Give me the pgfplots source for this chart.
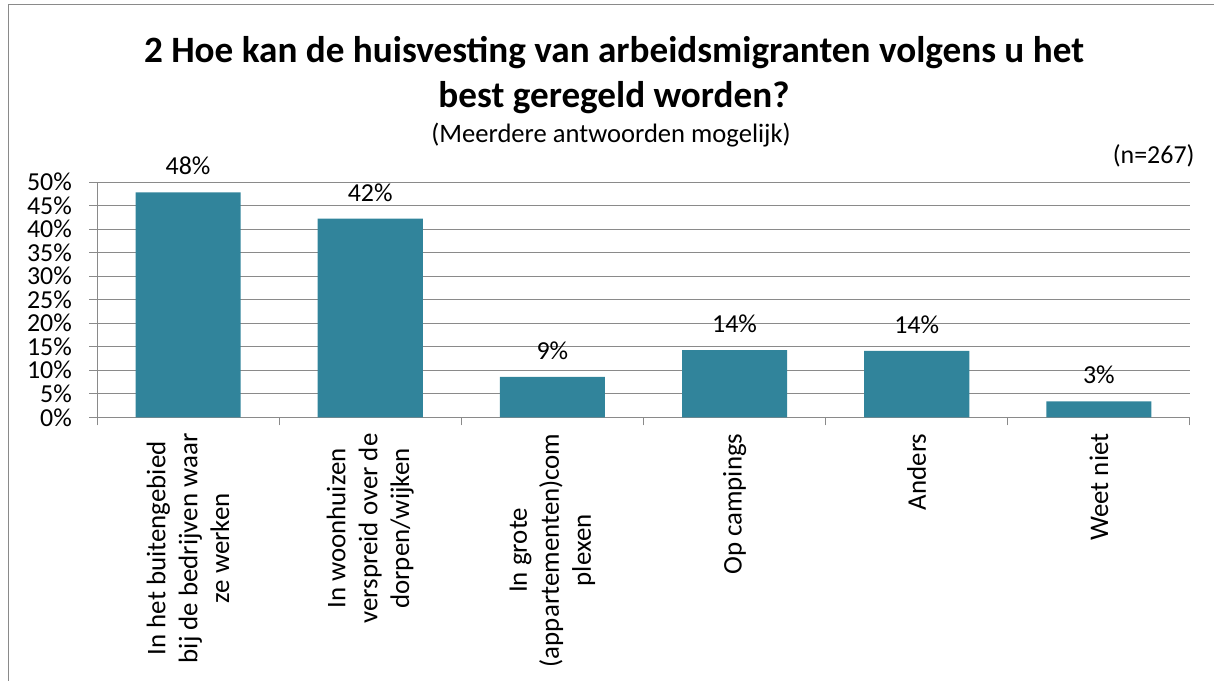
\documentclass[border=0pt]{standalone}
\usepackage{fontspec}
\setmainfont{Carlito}
\usepackage{pgfplots}
\pgfplotsset{compat=1.18}
\definecolor{barteal}{HTML}{31849B}
\definecolor{gridgray}{HTML}{8A8A8A}
\begin{document}
\begin{tikzpicture}
\useasboundingbox (0bp,0bp) rectangle (1214bp,-681bp);
\draw[gridgray, line width=1.3bp] (8.5bp,-681bp) -- (8.5bp,-4.5bp) -- (1214bp,-4.5bp);
\node[anchor=base, font=\fontsize{37.3}{45}\selectfont\bfseries] at (614bp,-62bp) {2 Hoe kan de huisvesting van arbeidsmigranten volgens u het};
\node[anchor=base, font=\fontsize{37.3}{45}\selectfont\bfseries] at (614bp,-107bp) {best geregeld worden?};
\node[anchor=base, font=\fontsize{26.7}{32}\selectfont] at (611bp,-142bp) {(Meerdere antwoorden mogelijk)};
\node[anchor=base east, font=\fontsize{26}{30}\selectfont] at (1198bp,-163bp) {(n=267)};
\begin{axis}[
  scale only axis,
  width=1093bp, height=235.3bp,
  at={(97bp,-417.3bp)}, anchor=south west,
  xmin=-0.5, xmax=5.5, ymin=0, ymax=50,
  axis lines=left,
  axis line style={-, gridgray, line width=1bp},
  tick align=outside,
  major tick length=8bp,
  tick style={gridgray, line width=1bp},
  ytick={0,5,...,50},
  yticklabel={\pgfmathprintnumber{\tick}\%},
  /pgf/number format/assume math mode=true,
  yticklabel style={font=\fontsize{26}{30}\selectfont, anchor=east, inner sep=0pt},
  ymajorgrids,
  grid style={gridgray, line width=0.9bp},
  xtick={-0.5,0.5,...,5.5},
  xticklabels={},
  extra x ticks={0,1,2,3,4,5},
  extra x tick labels={{In het buitengebied\\bij de bedrijven waar\\ze werken},{In woonhuizen\\verspreid over de\\dorpen/wijken},{In grote\\(appartementen)com\\plexen},{Op campings},{Anders},{Weet niet}},
  extra x tick style={major tick length=0pt, grid=none,
    xticklabel style={rotate=90, anchor=east, align=center, inner sep=0pt,
      font=\fontsize{27}{32}\selectfont}},
  xticklabel shift=16bp,
  yticklabel shift=17bp,
  ybar,
  bar width=0.577,
  bar shift=0pt,
  nodes near coords={\pgfmathprintnumber[fixed,precision=0]{\pgfplotspointmeta}\%},
  nodes near coords style={font=\fontsize{26}{30}\selectfont, anchor=south, inner sep=0pt, yshift=17bp, black},
  clip=false,
]
\addplot[fill=barteal, draw=none] coordinates {
  (0,47.8) (1,42.2) (2,8.6) (3,14.3) (4,14.1) (5,3.4)
};
\end{axis}
\end{tikzpicture}
\end{document}
